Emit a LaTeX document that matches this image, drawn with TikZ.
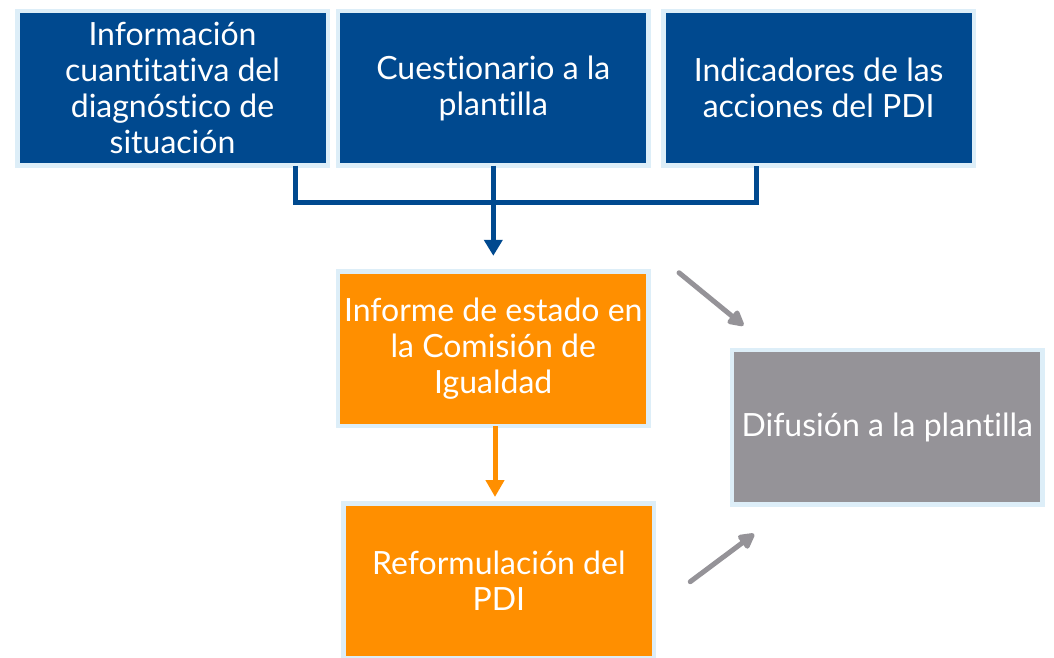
\documentclass[tikz,border=0pt]{standalone}
\usepackage{fontspec}
\setmainfont{Lato}[Ligatures={NoCommon,NoRare,NoContextual}, RawFeature={-liga;-clig;-calt;-dlig}]
\usetikzlibrary{arrows.meta}
\definecolor{cblue}{RGB}{0,73,143}
\definecolor{corange}{RGB}{255,143,0}
\definecolor{cgray}{RGB}{149,147,152}
\definecolor{cedge}{RGB}{221,238,248}
\tikzset{
  box/.style={rectangle, draw=cedge, line width=4.5pt, minimum width=310.5pt, minimum height=154.5pt,
    inner sep=0pt, align=center, text=white, font=\fontsize{32}{36}\selectfont},
  bluebox/.style={box, fill=cblue},
  orangebox/.style={box, fill=corange},
  graybox/.style={box, fill=cgray},
  bline/.style={draw=cblue, line width=5pt},
  oline/.style={draw=corange, line width=5pt},
  gline/.style={draw=cgray, line width=5pt, line cap=round},
}
\begin{document}
\begin{tikzpicture}[x=1pt,y=1pt]
\useasboundingbox (0,0) rectangle (1054,-657);
\node[bluebox] (b1) at (172.5,-88.2) {Información\\cuantitativa del\\diagnóstico de\\situación};
\node[bluebox] (b2) at (493.3,-88.2) {Cuestionario a la\\plantilla};
\node[bluebox] (b3) at (818.7,-88.2) {Indicadores de las\\acciones del PDI};
\node[orangebox] (o1) at (493.3,-348.8) {Informe de estado en\\la Comisión de\\Igualdad};
\node[orangebox] (o2) at (498.8,-580.5) {Reformulación del\\PDI};
\node[graybox] (g) at (887.2,-427.2) {Difusión a la plantilla};
\coordinate (bus) at (493.3,-202);
\draw[bline] ([xshift=122.5pt,yshift=2pt]b1.south) |- (bus) -| ([xshift=-62pt,yshift=2pt]b3.south);
\draw[bline, -{Triangle[length=16pt,width=18pt]}, shorten >=13.5pt] ([yshift=2pt]b2.south) -- (o1.north);
\draw[oline, -{Triangle[length=17pt,width=18pt]}, shorten >=4pt] ([xshift=1.7pt,yshift=2pt]o1.south) -- ([xshift=1.7pt]o1.south |- o2.north);
\draw[gline, -{Triangle[length=18pt,width=18pt,round]}] ([shift={(28.25pt,-3.45pt)}]o1.north east) -- ([shift={(13.75pt,22.2pt)}]g.north west);
\draw[gline, -{Triangle[length=18pt,width=18pt,round]}] ([shift={(33.95pt,-1.2pt)}]o2.east) -- ([shift={(24.45pt,-27.25pt)}]g.south west);
\end{tikzpicture}
\end{document}
